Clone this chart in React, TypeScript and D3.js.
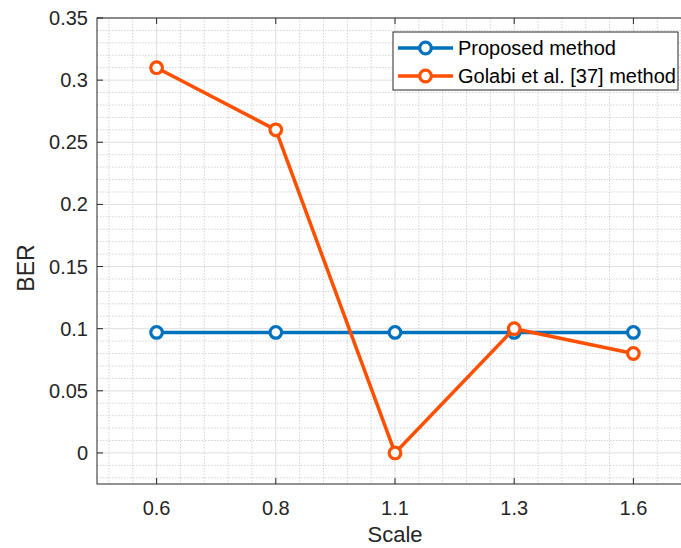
import React, { useEffect, useRef } from 'react';
import * as d3 from 'd3';

const scales = ['0.6', '0.8', '1.1', '1.3', '1.6'];
const proposed = [0.097, 0.097, 0.097, 0.097, 0.097];
const golabi = [0.31, 0.26, 0.0, 0.1, 0.08];
const yTicks = [0, 0.05, 0.1, 0.15, 0.2, 0.25, 0.3, 0.35];
const seriesNames = ['Proposed method', 'Golabi et al. [37] method'];
const colors = ['#0072BD', '#FF5000'];

export default function App() {
  const ref = useRef<SVGSVGElement>(null);

  useEffect(() => {
    const width = 681;
    const height = 548;
    const left = 97;
    const right = 693;
    const top = 18;
    const bottom = 484;
    const font = 'Liberation Sans, Arial, Helvetica, sans-serif';

    const svg = d3.select(ref.current);
    svg.selectAll('*').remove();
    svg.attr('width', width).attr('height', height);

    const x = d3.scaleLinear().domain([-0.5, scales.length - 0.5]).range([left, right]);
    const y = d3.scaleLinear().domain([-0.025, 0.35]).range([bottom, top]);

    svg.append('rect').attr('width', width).attr('height', height).attr('fill', '#fff');

    // minor grid
    const minorX = d3.range(-0.4, scales.length - 0.5, 0.2).filter(v => Math.abs(v - Math.round(v)) > 0.05);
    const minorY = d3.range(-0.02, 0.35, 0.01).filter(v => Math.abs(v / 0.05 - Math.round(v / 0.05)) > 0.05);
    const grid = svg.append('g');
    grid
      .selectAll('.mx')
      .data(minorX)
      .join('line')
      .attr('x1', d => x(d))
      .attr('x2', d => x(d))
      .attr('y1', top)
      .attr('y2', bottom)
      .attr('stroke', '#d4d4d4')
      .attr('stroke-dasharray', '1.5,1.5');
    grid
      .selectAll('.my')
      .data(minorY)
      .join('line')
      .attr('x1', left)
      .attr('x2', right)
      .attr('y1', d => y(d))
      .attr('y2', d => y(d))
      .attr('stroke', '#d4d4d4')
      .attr('stroke-dasharray', '1.5,1.5');
    // major grid
    grid
      .selectAll('.gx')
      .data(scales)
      .join('line')
      .attr('x1', (d, i) => x(i))
      .attr('x2', (d, i) => x(i))
      .attr('y1', top)
      .attr('y2', bottom)
      .attr('stroke', '#dedede');
    grid
      .selectAll('.gy')
      .data(yTicks)
      .join('line')
      .attr('x1', left)
      .attr('x2', right)
      .attr('y1', d => y(d))
      .attr('y2', d => y(d))
      .attr('stroke', '#dedede');

    // box
    svg
      .append('rect')
      .attr('x', left)
      .attr('y', top)
      .attr('width', right - left)
      .attr('height', bottom - top)
      .attr('fill', 'none')
      .attr('stroke', '#262626')
      .attr('stroke-width', 1);

    // ticks (inside, mirrored)
    const ticks = svg.append('g').attr('stroke', '#262626');
    scales.forEach((s, i) => {
      ticks.append('line').attr('x1', x(i)).attr('x2', x(i)).attr('y1', bottom).attr('y2', bottom - 6);
      ticks.append('line').attr('x1', x(i)).attr('x2', x(i)).attr('y1', top).attr('y2', top + 6);
    });
    yTicks.forEach(t => {
      ticks.append('line').attr('x1', left).attr('x2', left + 6).attr('y1', y(t)).attr('y2', y(t));
      ticks.append('line').attr('x1', right).attr('x2', right - 6).attr('y1', y(t)).attr('y2', y(t));
    });

    // tick labels
    svg
      .append('g')
      .selectAll('text')
      .data(yTicks)
      .join('text')
      .attr('x', left - 9)
      .attr('y', d => y(d))
      .attr('dy', '0.35em')
      .attr('text-anchor', 'end')
      .attr('font-family', font)
      .attr('font-size', 20)
      .attr('fill', '#262626')
      .text(d => String(d));
    svg
      .append('g')
      .selectAll('text')
      .data(scales)
      .join('text')
      .attr('x', (d, i) => x(i))
      .attr('y', 515)
      .attr('text-anchor', 'middle')
      .attr('font-family', font)
      .attr('font-size', 20)
      .attr('fill', '#262626')
      .text(d => d);

    // axis labels
    svg
      .append('text')
      .attr('x', x(2))
      .attr('y', 542)
      .attr('text-anchor', 'middle')
      .attr('font-family', font)
      .attr('font-size', 22)
      .attr('fill', '#262626')
      .text('Scale');
    svg
      .append('text')
      .attr('transform', `translate(34, 268) rotate(-90)`)
      .attr('text-anchor', 'middle')
      .attr('font-family', font)
      .attr('font-size', 23)
      .attr('fill', '#262626')
      .text('BER');

    // series
    const line = d3
      .line<number>()
      .x((d, i) => x(i))
      .y(d => y(d));
    [proposed, golabi].forEach((vals, k) => {
      const g = svg.append('g');
      g.append('path')
        .datum(vals)
        .attr('d', line)
        .attr('fill', 'none')
        .attr('stroke', colors[k])
        .attr('stroke-width', 3.5);
      g.selectAll('circle')
        .data(vals)
        .join('circle')
        .attr('cx', (d, i) => x(i))
        .attr('cy', d => y(d))
        .attr('r', 5.8)
        .attr('fill', '#fff')
        .attr('stroke', colors[k])
        .attr('stroke-width', 3.2);
    });

    // legend
    const lg = svg.append('g');
    lg.append('rect')
      .attr('x', 393)
      .attr('y', 32)
      .attr('width', 285)
      .attr('height', 58)
      .attr('fill', '#fff')
      .attr('stroke', '#262626')
      .attr('stroke-width', 1);
    seriesNames.forEach((name, k) => {
      const ly = 48 + k * 28;
      lg.append('line')
        .attr('x1', 398)
        .attr('x2', 453)
        .attr('y1', ly)
        .attr('y2', ly)
        .attr('stroke', colors[k])
        .attr('stroke-width', 3.5);
      lg.append('circle')
        .attr('cx', 425.5)
        .attr('cy', ly)
        .attr('r', 5.8)
        .attr('fill', '#fff')
        .attr('stroke', colors[k])
        .attr('stroke-width', 3.2);
      lg.append('text')
        .attr('x', 458)
        .attr('y', ly)
        .attr('dy', '0.35em')
        .attr('font-family', font)
        .attr('font-size', 20)
        .attr('fill', '#000')
        .text(name);
    });
  }, []);

  return (
    <div style={{ position: 'absolute', left: 0, top: 0 }}>
      <svg ref={ref} style={{ display: 'block' }} />
    </div>
  );
}
